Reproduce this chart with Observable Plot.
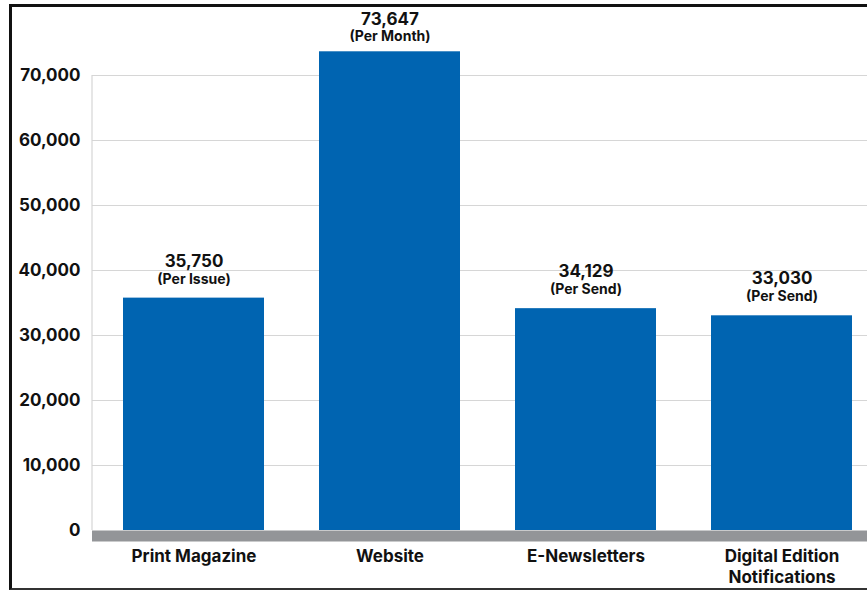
<!DOCTYPE html>
<html>
<head>
<meta charset="utf-8">
<script src="https://cdn.jsdelivr.net/npm/d3@7"></script>
<script src="https://cdn.jsdelivr.net/npm/@observablehq/plot@0.6"></script>
<style>
  html, body { margin: 0; padding: 0; background: #fff; }
  #wrap { position: relative; width: 867px; height: 590px; overflow: hidden; }
  #chart { position: absolute; left: 0; top: 0; }
  #border { position: absolute; left: 9px; top: 4px; width: 900px; height: 581px;
    border-top: 3px solid #111; border-left: 3px solid #111; border-bottom: 2px solid #333;
    pointer-events: none; }
</style>
</head>
<body>
<div id="wrap"><div id="chart"></div><div id="border"></div></div>
<script>
const categories = ["Print Magazine", "Website", "E-Newsletters", "Digital Edition\nNotifications"];
const values = [35750, 73647, 34129, 33030];
const notes = ["(Per Issue)", "(Per Month)", "(Per Send)", "(Per Send)"];
const yTicks = [0, 10000, 20000, 30000, 40000, 50000, 60000, 70000];

const data = categories.map((c, i) => ({name: c, value: values[i], note: notes[i]}));
const fmt = d3.format(",");
const font = "Inter, 'Open Sans', sans-serif";
const marginLeft = 92, marginTop = 75, marginBottom = 60, W = 867, H = 590;
const yMax = yTicks[yTicks.length - 1];
const tall = d => d.value > yMax;
const normal = d => d.value <= yMax;

const chart = Plot.plot({
  width: W,
  height: H,
  marginLeft,
  marginRight: 0,
  marginTop,
  marginBottom,
  style: {background: "transparent", fontFamily: font, fontWeight: "bold", color: "#111"},
  x: {domain: categories, range: [92, 882], paddingInner: 0.2817, paddingOuter: 0.1528, axis: null},
  y: {domain: [0, yMax], axis: null},
  marks: [
    Plot.ruleY(yTicks.slice(1), {stroke: "#d6d6d6", strokeWidth: 1.2}),
    Plot.text(yTicks, {y: d => d, text: d => fmt(d), frameAnchor: "left", textAnchor: "end", dx: -12,
      fontSize: 17, fontWeight: "bold", fill: "#111"}),
    Plot.barY(data, {x: "name", y: "value", fill: "#0064b1"}),
    Plot.ruleY([0], {stroke: "#939598", strokeWidth: 11, dy: 5.5}),
    Plot.text(data, {filter: normal, x: "name", y: "value", text: d => fmt(d.value), dy: -37,
      fontSize: 17, fontWeight: "bold", fill: "#111"}),
    Plot.text(data, {filter: normal, x: "name", y: "value", text: "note", dy: -19,
      fontSize: 14, fontWeight: "bold", fill: "#111"}),
    Plot.text(data, {filter: tall, x: "name", y: "value", text: d => fmt(d.value), dy: -32,
      fontSize: 17, fontWeight: "bold", fill: "#111"}),
    Plot.text(data, {filter: tall, x: "name", y: "value", text: "note", dy: -15,
      fontSize: 14, fontWeight: "bold", fill: "#111"}),
    Plot.text(data, {x: "name", y: () => 0, text: "name", lineAnchor: "top", dy: 17, lineHeight: 1.23,
      fontSize: 17, fontWeight: "bold", fill: "#111"})
  ]
});

const y = chart.scale("y");
d3.select(chart).append("line")
  .attr("x1", marginLeft).attr("x2", marginLeft)
  .attr("y1", y.apply(yMax)).attr("y2", y.apply(0))
  .attr("stroke", "#d6d6d6").attr("stroke-width", 1.2);

document.getElementById("chart").appendChild(chart);
</script>
</body>
</html>
